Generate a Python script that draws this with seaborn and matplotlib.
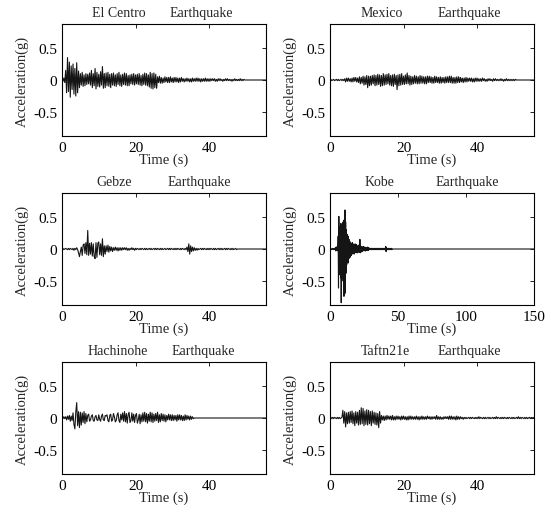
import numpy as np
import pandas as pd
import matplotlib
matplotlib.use("Agg")
import matplotlib.pyplot as plt
import seaborn as sns

# Ground-acceleration records, sampled every DT seconds, values in centi-g
DT = 0.25

el_centro_cg = [
    1, -2, 3, -4, 15, -20, 35, -18, 28, -27, 22, -15, 25, -22, 18, -25,
    27, -20, 14, -12, 10, -8, 12, -10, 8, -9, 10, -7, 9, -6, 11, -8,
    15, -12, 10, -9, 18, -14, 12, -10, 9, -11, 13, -8, 21, -13, 10, -12,
    11, -9, 12, -10, 9, -12, 10, -8, 11, -9, 8, -10, 10, -7, 12, -9,
    8, -10, 9, -7, 11, -8, 10, -9, 7, -9, 8, -6, 9, -7, 10, -8,
    8, -6, 9, -7, 10, -8, 7, -9, 9, -7, 11, -8, 10, -9, 8, -11,
    12, -13, 10, -14, 11, -12, 9, -13, 5, -4, 6, -5, 4, -5, 3, -4,
    5, -3, 4, -4, 4, -4, 5, -3, 3, -4, 4, -3, 4, -3, 3, -4, 3, -3, 4, -2,
    2, -3, 2, -2, 3, -2, 2, -3, 2, -3, 3, -2, 2, -2, 3, -2, 3, -2, 2, -3,
    2, -2, 2, -2, 3, -2, 2, -2, 2, -2, 2, -1, 2, -1, 2, -2, 1, -2, 2, -1,
    2, -1, 1, -2, 1, -1, 2, -1, 2, -1, 1, -1, 1, -2, 1, -1, 2, -1, 1, -1,
    1, -1, 2, -1, 1, -1, 1, 0,
]

mexico_cg = [
    0, 1, -1, 0, 1, -1, 0, 1, -1, 1, -1, 0, 1, -1, 1, -1,
    2, -3, 3, -2, 3, -2, 2, -3, 3, -3, 4, -2, 4, -3, 3, -4,
    5, -6, 4, -5, 6, -8, 5, -7, 7, -12, 6, -9, 6, -8, 7, -6,
    8, -9, 7, -8, 9, -7, 8, -10, 7, -9, 10, -8, 8, -7, 9, -6,
    10, -8, 7, -9, 8, -10, 9, -7, 7, -15, 8, -9, 9, -8, 10, -7,
    6, -7, 8, -6, 11, -6, 7, -8, 6, -7, 5, -6, 7, -5, 6, -6,
    5, -6, 7, -5, 6, -5, 5, -6, 5, -6, 6, -4, 6, -4, 5, -5,
    4, -5, 6, -4, 5, -4, 4, -5, 5, -5, 4, -4, 4, -5, 5, -4,
    5, -4, 6, -4, 6, -5, 4, -5, 4, -5, 5, -4, 5, -4, 4, -3,
    3, -4, 3, -3, 4, -3, 3, -2, 3, -2, 3, -3, 2, -3, 3, -2,
    3, -2, 2, -2, 2, -2, 3, -1, 2, -2, 1, -2, 2, -1, 2, -1,
    1, -2, 2, -1, 2, -1, 1, -1, 1, -1, 2, -1, 1, -2, 1, -1,
    2, -1, 1, -1, 1, -1, 1, -1, 1, -1, 1, 0,
]

gebze_cg = [
    0, 1, -1, 0, 1, 0, -1, 1, -1, 1, 0, -1, 1, -2, 1, -1,
    2, -1, -6, -12, -4, 3, -10, 6, 8, -7, 10, -9, 29, -10, 9, -8,
    10, -11, 8, -12, -15, 10, -13, 9, 11, -9, 8, -10, 16, -12, 5, -8,
    5, -4, 6, -5, 4, -3, 3, -4, 2, -2, 3, -2, 2, -3, 2, -2,
    2, -2, 2, -1, 2, -1, 2, -2, 1, -2, 1, -1, 2, -1, 1, -2,
    1, -1, 1, 0, -1, 1, -1, 1, 0, -1, 1, -1, 1, -1, 0, 1,
    -1, 1, -1, 0, 1, -1, 1, -1, 1, 0, -1, 1, -1, 1, -1, 0,
    1, -1, 0, 1, -1, 1, -1, 1, 0, -1, 1, -1, 1, -1, 1, 0,
    -1, 1, -1, 1, 0, -1, 1, -1, 3, -4, 8, -8, 5, -4, 3, -3,
    2, -2, 1, -2, 1, -1, 0, 1, -1, 1, -1, 1, 0, -1, 1, -1,
    1, -1, 1, 0, -1, 1, -1, 1, -1, 0, 1, -1, 1, -1, 1, -1,
    0, 1, -1, 1, -1, 1, 0, -1, 1, -1, 1, -1, 0, 1, -1, 0,
]

kobe_cg = [
    0, 0, 1, 0, 0, -1, 0, 0, 1, 0, -1, 0, 0, 1, 0, -1,
    2, -3, 3, -2, 3, -2, 4, -3, 20, -61, 51, -30, 35, -40, 30, -45,
    40, -84, 35, -50, 38, -45, 42, -40, 45, -74, 40, -35, 61, -69, 42, -38,
    30, -25, 23, -20, 18, -22, 20, -15, 15, -14, 12, -13, 10, -9, 8, -10,
    9, -8, 10, -7, 8, -7, 6, -8, 7, -6, 8, -5, 6, -5, 7, -6,
    5, -6, 4, -5, 6, -4, 5, -5, 15, -6, 4, -5, 4, -3, 3, -4,
    3, -3, 4, -2, 3, -2, 3, -3, 2, -3, 2, -2, 2, -2, 3, -2,
    2, -2, 2, -1, 1, -1, 1, 0, -1, 1, -1, 1, 0, -1, 1, -1,
    1, -1, 0, 1, -1, 1, -1, 0, 1, -1, 1, -1, 1, 0, -1, 1,
    -1, 1, -1, 0, 1, -1, 1, -1, 0, 1, -1, 1, -1, 1, 0, -1,
    1, -1, 1, -1, 4, -4, 2, -1, 1, -1, 0, 1, -1, 1, -1, 0,
    1, -1, 1, 0, -1, 1, -1, 0,
]

hachinohe_cg = [
    1, -1, 2, -1, 2, -3, 3, -2, 4, -5, 3, -4, 8, -10, -17, 9,
    24, -12, 10, -15, 9, -11, 8, -7, 10, -9, 7, -6, 4, 6, -5, -3,
    3, 5, -4, -5, 2, 4, -3, -4, 5, -2, -5, 3, 6, -3, -4, 4,
    3, 5, -4, -6, 4, 6, -5, -3, 7, 2, -6, -4, 5, 8, -4, -7,
    6, -3, 8, -5, 10, -6, 7, -8, 5, 9, -7, -4, 8, -5, 6, -7,
    4, 7, -8, -3, 6, -9, 5, -6, 8, -5, 9, -6, 7, -8, 6, -5,
    9, -6, 8, -7, 6, -5, 7, -4, 9, -7, 5, -6, 7, -4, 6, -5,
    5, -6, 4, -3, 6, -3, 5, -4, 5, -4, 4, -3, 4, -5, 5, -3,
    5, -3, 4, -4, 3, -4, 5, -3, 4, -2, 3, -3, 3, -2, 2, -1,
]

taft_cg = [
    0, 1, -1, 1, -1, 1, 0, -1, 1, -1, 1, -1, 0, 1, 12, -8,
    10, -14, 8, -9, 9, -8, 10, -7, 11, -9, 8, -12, 10, -8, 9, -11,
    12, -10, 16, -9, 15, -12, 11, -10, 13, -11, 12, -9, 10, -12, 11, -8,
    9, -10, 8, -11, 7, -15, 10, -8, 4, -3, 3, -4, 3, -3, 4, -2,
    3, -2, 3, -3, 4, -3, 2, -3, 3, -2, 3, -2, 2, -3, 3, -2,
    3, -2, 2, -3, 2, -3, 3, -2, 3, -2, 2, -2, 2, -2, 3, -2,
    2, -3, 2, -2, 3, -2, 2, -2, 2, -2, 3, -1, 2, -2, 2, -2,
    2, -1, 2, -2, 4, -2, 2, -2, 2, -2, 1, -2, 2, -1, 2, -1,
    2, -2, 3, -2, 3, -2, 2, -2, 2, -3, 3, -2, 2, -2, 2, -1,
    1, -2, 1, -1, 1, -1, 0, 1, -1, 1, -1, 1, 0, -1, 1, -1,
    1, -1, 2, -1, 1, 0, -1, 1, -1, 1, -1, 0, 1, -1, 1, -1,
    0, 1, -1, 1, -1, 2, -1, 1, 0, -1, 1, -1, 1, -1, 1, 0,
    -1, 1, -1, 1, 0, -1, 1, -1, 1, -1, 0, 1, -1, 2, -1, 1,
    -1, 1, 0, -1, 1, -1, 1, -1, 0, 1, -1, 1, -1, 1, 0, -1,
    1, -1, 1, -1, 1, 0, -1, 1, -1, 2, -1, 0,
]

record_names = ["El Centro", "Mexico", "Gebze", "Kobe", "Hachinohe", "Taftn21e"]
record_values = [el_centro_cg, mexico_cg, gebze_cg, kobe_cg, hachinohe_cg, taft_cg]
x_limits = [55.5, 55.5, 55.5, 150.0, 55.5, 55.5]
x_tick_sets = [[0, 20, 40], [0, 20, 40], [0, 20, 40],
               [0, 50, 100, 150], [0, 20, 40], [0, 20, 40]]
y_ticks = [-0.5, 0, 0.5]
y_tick_labels = ["-0.5", "0", "0.5"]
# horizontal start of the record name and of the word "Earthquake" (axes fraction)
title_offsets = [(0.147, 0.529), (0.152, 0.529), (0.167, 0.515),
                 (0.167, 0.515), (0.127, 0.539), (0.152, 0.529)]

sns.set_theme(style="white")
plt.rcParams["font.family"] = ["Liberation Serif", "DejaVu Serif"]
plt.rcParams["font.size"] = 10
plt.rcParams["axes.edgecolor"] = "black"
plt.rcParams["axes.linewidth"] = 0.8

fig = plt.figure(figsize=(5.5, 5.1), dpi=100)
W, H = 550.0, 510.0
col_left = [62, 330]
row_top = [25, 194, 363]
ax_w, ax_h = 204, 112

for i, (name, vals) in enumerate(zip(record_names, record_values)):
    r, c = divmod(i, 2)
    left = col_left[c] / W
    bottom = 1 - (row_top[r] + ax_h) / H
    ax = fig.add_axes([left, bottom, ax_w / W, ax_h / H])

    acc = np.asarray(vals, dtype=float) / 100.0
    n_total = int(round(x_limits[i] / DT)) + 1
    acc = np.concatenate([acc, np.zeros(max(0, n_total - len(acc)))])
    df = pd.DataFrame({"Time (s)": np.arange(len(acc)) * DT,
                       "Acceleration(g)": acc})
    sns.lineplot(data=df, x="Time (s)", y="Acceleration(g)", ax=ax,
                 estimator=None, sort=False, color="#151515", linewidth=0.8)

    ax.set_xlim(0, x_limits[i])
    ax.set_ylim(-0.875, 0.875)
    ax.set_xticks(x_tick_sets[i])
    ax.set_xticklabels([str(t) for t in x_tick_sets[i]])
    ax.set_yticks(y_ticks)
    ax.set_yticklabels(y_tick_labels)
    ax.tick_params(direction="in", length=3, width=0.6, top=True, right=True,
                   labelsize=11, pad=3.5, colors="black")
    for sp in ax.spines.values():
        sp.set_visible(True)
        sp.set_color("black")
        sp.set_linewidth(0.8)

    ax.set_xlabel("Time (s)", fontsize=10.5)
    ax.set_ylabel("Acceleration(g)", fontsize=10.5)
    ax.xaxis.label.set_va("center")
    ax.yaxis.label.set_va("center")
    ax.xaxis.set_label_coords(0.5, -0.205)
    ax.yaxis.set_label_coords(-0.196, 0.5)

    nx, ex = title_offsets[i]
    ax.text(nx, 1.107, name, transform=ax.transAxes, ha="left", va="center",
            fontsize=10)
    ax.text(ex, 1.107, "Earthquake", transform=ax.transAxes, ha="left",
            va="center", fontsize=10)

fig.savefig("out.png", dpi=100, facecolor="white")
